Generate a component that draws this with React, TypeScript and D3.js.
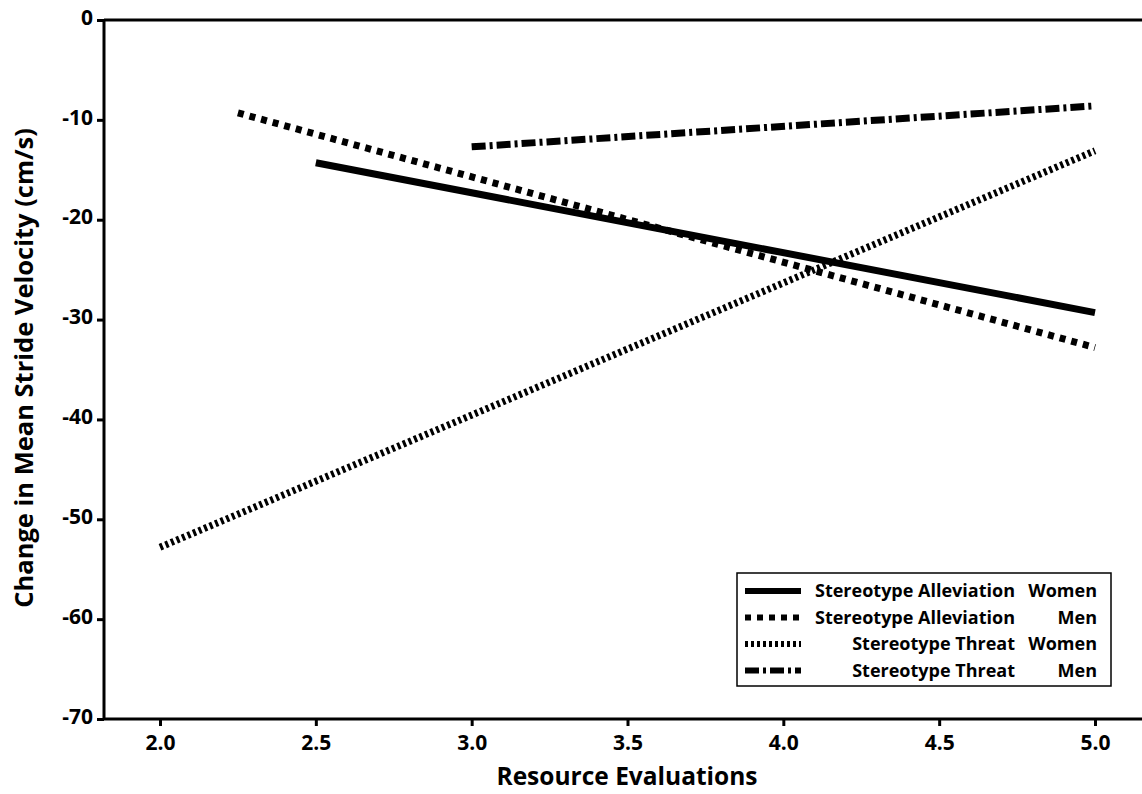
import React, { useEffect, useRef } from "react";
import * as d3 from "d3";

// series: [x, y] endpoints of each fitted line
const groups = ["Stereotype Alleviation", "Stereotype Alleviation", "Stereotype Threat", "Stereotype Threat"];
const genders = ["Women", "Men", "Women", "Men"];
const startX = [2.5, 2.25, 2.0, 3.0];
const endX = [5.0, 5.0, 5.0, 5.0];
const startY = [-14.3, -9.3, -52.8, -12.7];
const endY = [-29.3, -32.8, -13.1, -8.6];
const dashes = ["none", "6,6", "3,3", "14,4,3,4"];

const xTicks = [2.0, 2.5, 3.0, 3.5, 4.0, 4.5, 5.0];
const yTicks = [0, -10, -20, -30, -40, -50, -60, -70];

const App = () => {
  const ref = useRef<SVGSVGElement>(null);

  useEffect(() => {
    if (!ref.current) return;
    const svg = d3.select(ref.current);
    svg.selectAll("*").remove();

    const W = 1142;
    const left = 104;
    const top = 20;
    const bottom = 719;
    const font = "'Open Sans', 'Noto Sans', sans-serif";

    const x = d3.scaleLinear().domain([2, 5]).range([160, 1095]);
    const y = d3.scaleLinear().domain([0, -70]).range([top, bottom]);

    const g = svg.append("g");

    // top frame line
    g.append("line")
      .attr("x1", left).attr("x2", W)
      .attr("y1", top).attr("y2", top)
      .attr("stroke", "#000").attr("stroke-width", 3);

    // x axis
    const xAxis = g.append("g").attr("transform", `translate(0,${bottom})`)
      .call(d3.axisBottom(x).tickValues(xTicks).tickFormat(d3.format(".1f")).tickSize(7).tickSizeOuter(0));
    xAxis.select(".domain").attr("d", `M${left},0H${W}`).attr("stroke-width", 3);
    xAxis.selectAll(".tick line").attr("stroke-width", 3);
    xAxis.selectAll("text")
      .attr("font-family", font).attr("font-size", 21).attr("font-weight", 700)
      .attr("fill", "#000").attr("y", 11).attr("dy", "0.95em");

    // y axis
    const yAxis = g.append("g").attr("transform", `translate(${left},0)`)
      .call(d3.axisLeft(y).tickValues(yTicks).tickFormat((d) => String(d)).tickSize(7).tickSizeOuter(0));
    yAxis.select(".domain").attr("d", `M0,${top}V${bottom}`).attr("stroke-width", 3);
    yAxis.selectAll(".tick line").attr("stroke-width", 3);
    yAxis.selectAll("text")
      .attr("font-family", font).attr("font-size", 21).attr("font-weight", 700)
      .attr("fill", "#000").attr("x", -11).attr("dy", "0.2em");

    // axis titles
    g.append("text")
      .attr("x", 627).attr("y", 785)
      .attr("text-anchor", "middle")
      .attr("font-family", font).attr("font-size", 24.5).attr("font-weight", 700)
      .text("Resource Evaluations");
    g.append("text")
      .attr("transform", `translate(33,368) rotate(-90)`)
      .attr("text-anchor", "middle")
      .attr("font-family", font).attr("font-size", 25.5).attr("font-weight", 700)
      .text("Change in Mean Stride Velocity (cm/s)");

    // lines
    groups.forEach((_, i) => {
      g.append("line")
        .attr("x1", x(startX[i])).attr("y1", y(startY[i]))
        .attr("x2", x(endX[i])).attr("y2", y(endY[i]))
        .attr("stroke", "#000").attr("stroke-width", 7)
        .attr("stroke-dasharray", dashes[i]);
    });

    // legend
    const lg = g.append("g").attr("transform", "translate(737,573)");
    lg.append("rect")
      .attr("width", 374).attr("height", 113)
      .attr("fill", "#fff").attr("stroke", "#000").attr("stroke-width", 1.5);
    groups.forEach((name, i) => {
      const ry = 18 + i * 26.5;
      lg.append("line")
        .attr("x1", 8).attr("x2", 64).attr("y1", ry).attr("y2", ry)
        .attr("stroke", "#000").attr("stroke-width", 6)
        .attr("stroke-dasharray", dashes[i]);
      lg.append("text")
        .attr("x", 278).attr("y", ry).attr("dy", "0.35em")
        .attr("text-anchor", "end")
        .attr("font-family", font).attr("font-size", 18).attr("font-weight", 700)
        .text(name);
      lg.append("text")
        .attr("x", 360).attr("y", ry).attr("dy", "0.35em")
        .attr("text-anchor", "end")
        .attr("font-family", font).attr("font-size", 18).attr("font-weight", 700)
        .text(genders[i]);
    });
  }, []);

  return (
    <svg ref={ref} width={1142} height={794}
      style={{ position: "absolute", left: 0, top: 0, background: "#fff" }} />
  );
};

export default App;
